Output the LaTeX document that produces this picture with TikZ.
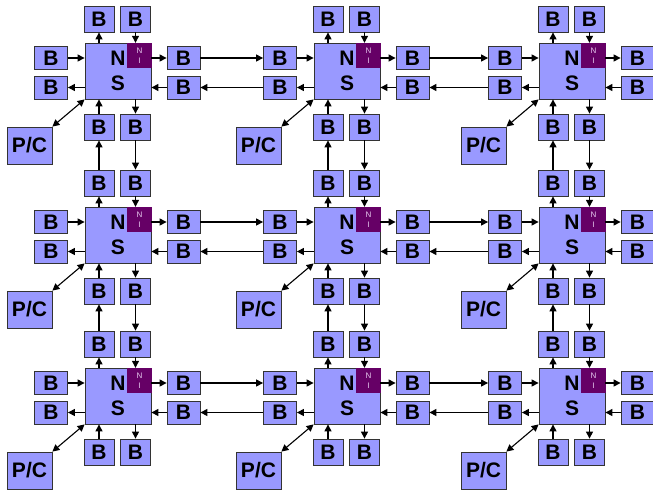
\documentclass[tikz,border=0pt]{standalone}
\usepackage{fontspec}
\setmainfont{Liberation Sans}
\usetikzlibrary{arrows.meta}

\definecolor{bufblue}{HTML}{9999FF}
\definecolor{nipurple}{HTML}{660066}
\definecolor{nitext}{HTML}{E8CCF0}

\tikzset{
  buf/.style={draw=black!80, fill=bufblue, line width=0.8pt, inner sep=0pt,
    font=\fontsize{21}{24}\selectfont\bfseries},
  sidebuf/.style={buf, minimum width=33pt, minimum height=23pt},
  vertbuf/.style={buf, minimum width=30pt, minimum height=26pt},
  switch/.style={buf, minimum width=66pt, minimum height=56pt, align=center,
    font=\fontsize{21}{25}\selectfont\bfseries},
  niface/.style={fill=nipurple, text=nitext, minimum width=25pt, minimum height=25pt,
    inner sep=0pt, align=center, font=\fontsize{8}{10.5}\selectfont},
  proc/.style={buf, minimum width=45pt, minimum height=37pt},
  link/.style={line width=1.1pt, -{Triangle[length=7pt,width=7pt]}},
  pclink/.style={line width=1.1pt, {Triangle[length=7pt,width=7pt]}-{Triangle[length=7pt,width=7pt]}}
}

\begin{document}
\begin{tikzpicture}[x=1pt,y=-1pt]
   \useasboundingbox (0,0) rectangle (653,490);

   % one tile: switch, network interface, buffers and processor
   \foreach \c/\dx in {0/0,1/229,2/454}
   \foreach \r/\dy in {0/0,1/164,2/325} {
   \begin{scope}[shift={(\dx,\dy)}]
      \node[switch] (ns\c\r) at (118,71) {N\\S};
      \node[niface] (ni\c\r) at (139.5,55.5) {N\\I};

      \node[vertbuf] (tl\c\r) at (99,19) {B};
      \node[vertbuf] (tr\c\r) at (135.5,19) {B};
      \node[sidebuf] (lt\c\r) at (51,58) {B};
      \node[sidebuf] (lb\c\r) at (51,87.5) {B};
      \node[sidebuf] (rt\c\r) at (183.5,58) {B};
      \node[sidebuf] (rb\c\r) at (183.5,87.5) {B};
      \node[vertbuf] (bl\c\r) at (99,127) {B};
      \node[vertbuf] (br\c\r) at (135.5,127) {B};
      \node[proc] (pc\c\r) at (29.5,145.5) {P/C};

      \draw[link] (tl\c\r.south |- ns\c\r.north) -- (tl\c\r.south);
      \draw[link] (tr\c\r.south) -- (tr\c\r.south |- ni\c\r.north);
      \draw[link] (lt\c\r.east) -- (lt\c\r.east -| ns\c\r.west);
      \draw[link] (lb\c\r.east -| ns\c\r.west) -- (lb\c\r.east);
      \draw[link] (rt\c\r.west -| ns\c\r.east) -- (rt\c\r.west);
      \draw[link] (rb\c\r.west) -- (rb\c\r.west -| ns\c\r.east);
      \draw[link] (br\c\r.north |- ns\c\r.south) -- (br\c\r.north);
      \draw[link] (bl\c\r.north) -- (bl\c\r.north |- ns\c\r.south);
      \draw[pclink] (pc\c\r.north east) -- (ns\c\r.south west);
   \end{scope}
   }

   % links between neighbouring tiles
   \foreach \c/\n in {0/1,1/2}
   \foreach \r in {0,1,2} {
      \draw[link] (rt\c\r) -- (lt\n\r);
      \draw[link] (lb\n\r) -- (rb\c\r);
   }
   \foreach \r/\n in {0/1,1/2}
   \foreach \c in {0,1,2} {
      \draw[link] (br\c\r) -- (tr\c\n);
      \draw[link] (tl\c\n) -- (bl\c\r);
   }
\end{tikzpicture}
\end{document}
